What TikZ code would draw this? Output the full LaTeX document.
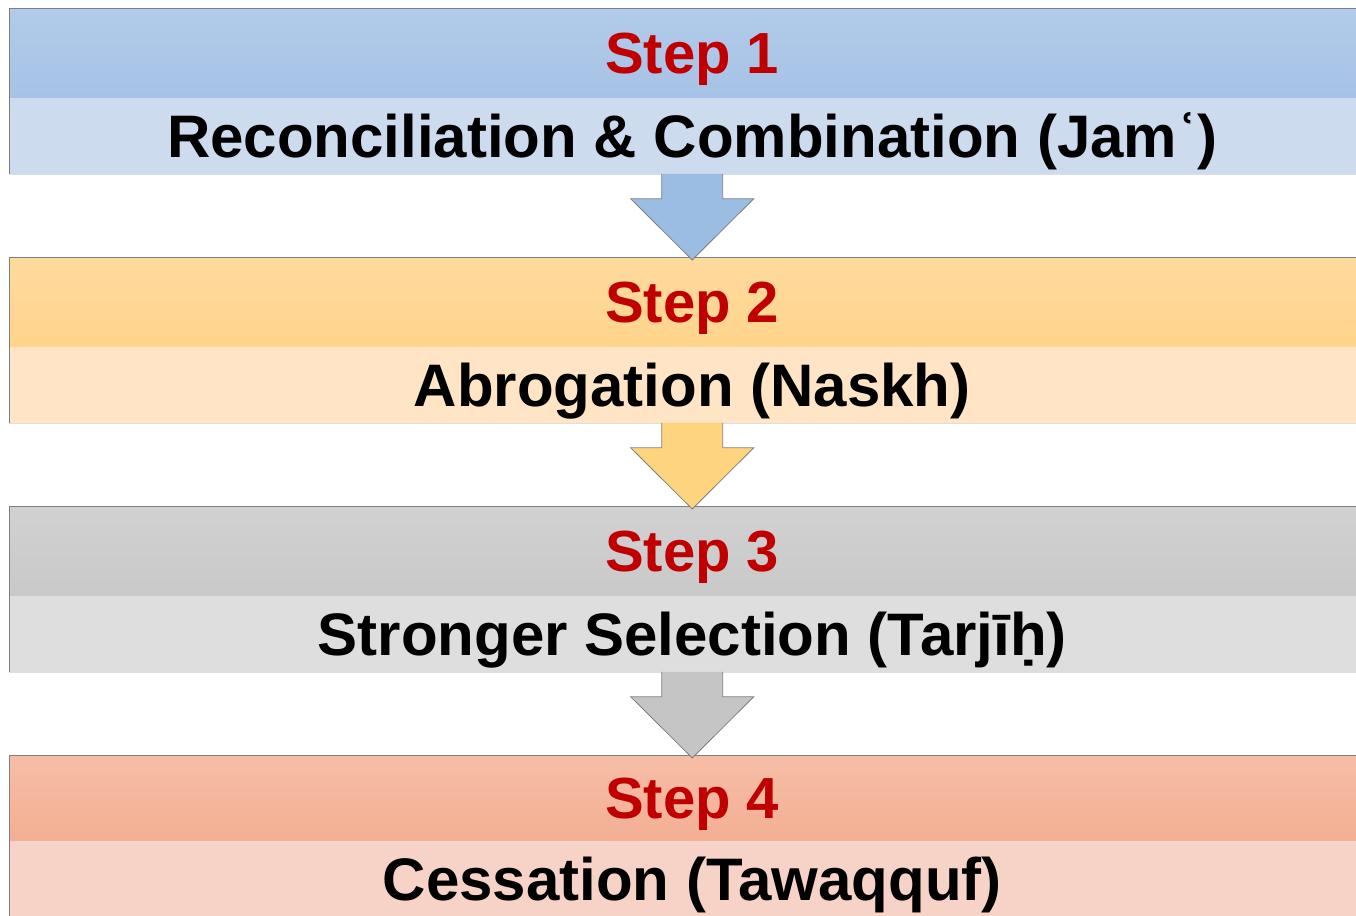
\documentclass[tikz,border=0pt]{standalone}
\usepackage{fontspec}
\setmainfont{Liberation Sans}
\usetikzlibrary{calc}

\definecolor{stepred}{HTML}{C00000}
\definecolor{framegray}{HTML}{7F7F7F}
\definecolor{blueTop}{HTML}{B1CBE9}
\definecolor{blueBot}{HTML}{A6C2E6}
\definecolor{blueBody}{HTML}{CCDBEE}
\definecolor{blueArrow}{HTML}{9BBDE4}
\definecolor{orangeTop}{HTML}{FFDA9E}
\definecolor{orangeBot}{HTML}{FFD48C}
\definecolor{orangeBody}{HTML}{FFE5C6}
\definecolor{orangeArrow}{HTML}{FFD47E}
\definecolor{grayTop}{HTML}{D1D1D1}
\definecolor{grayBot}{HTML}{C9C9C9}
\definecolor{grayBody}{HTML}{DEDEDE}
\definecolor{grayArrow}{HTML}{C5C5C5}
\definecolor{salmonTop}{HTML}{F6BDA6}
\definecolor{salmonBot}{HTML}{F3AF94}
\definecolor{salmonBody}{HTML}{F6D3C6}

\begin{document}
\begin{tikzpicture}[x=1pt, y=1pt]

    \useasboundingbox (0,0) rectangle (1356,915);

    % Estilos
    \tikzset{
        stephead/.style={anchor=north west, minimum width=1366pt, minimum height=88pt,
            inner sep=0pt, text height=41.5pt, text depth=0pt,
            font=\fontsize{58}{60}\selectfont\bfseries, text=stepred},
        stepbody/.style={anchor=north west, minimum width=1366pt, minimum height=76pt,
            inner sep=0pt, text height=43pt, text depth=0pt,
            font=\fontsize{60}{62}\selectfont\bfseries, text=black},
        frame/.style={draw=framegray, line width=1pt},
        flow/.style={draw=framegray, line width=0.8pt, line join=miter}
    }

    % --------------------
    % Step 1
    % --------------------
    \node[stephead, top color=blueTop, bottom color=blueBot] (head1) at (9,906) {Step 1};
    \node[stepbody, fill=blueBody] (body1) at (head1.south west) {Reconciliation \& Combination (Jamʿ)};
    \draw[gray!25] (body1.south west) -- (body1.south east);
    \draw[frame] (body1.south west) -- (head1.north west) -- (head1.north east);

    % --------------------
    % Step 2
    % --------------------
    \node[stephead, top color=orangeTop, bottom color=orangeBot] (head2) at (9,657) {Step 2};
    \node[stepbody, fill=orangeBody] (body2) at (head2.south west) {Abrogation (Naskh)};
    \draw[gray!25] (body2.south west) -- (body2.south east);
    \draw[frame] (body2.south west) -- (head2.north west) -- (head2.north east);

    % --------------------
    % Step 3
    % --------------------
    \node[stephead, top color=grayTop, bottom color=grayBot] (head3) at (9,408) {Step 3};
    \node[stepbody, fill=grayBody] (body3) at (head3.south west) {Stronger Selection (Tarjīḥ)};
    \draw[gray!25] (body3.south west) -- (body3.south east);
    \draw[frame] (body3.south west) -- (head3.north west) -- (head3.north east);

    % --------------------
    % Step 4
    % --------------------
    \node[stephead, minimum height=84pt, top color=salmonTop, bottom color=salmonBot] (head4) at (9,159) {Step 4};
    \node[stepbody, fill=salmonBody] (body4) at (head4.south west) {Cessation (Tawaqquf)};
    \draw[frame] (body4.south west) -- (head4.north west) -- (head4.north east);

    % --------------------
    % Setas
    % --------------------
    \draw[flow, fill=blueArrow]
    ($(body1.south)+(-30.5,0)$) --
    ($(body1.south)+(-30.5,-25)$) --
    ($(body1.south)+(-61.5,-25)$) --
    ($(head2.north)+(0,-2)$) --
    ($(body1.south)+(61.5,-25)$) --
    ($(body1.south)+(30.5,-25)$) --
    ($(body1.south)+(30.5,0)$);

    \draw[flow, fill=orangeArrow]
    ($(body2.south)+(-30.5,0)$) --
    ($(body2.south)+(-30.5,-25)$) --
    ($(body2.south)+(-61.5,-25)$) --
    ($(head3.north)+(0,-2)$) --
    ($(body2.south)+(61.5,-25)$) --
    ($(body2.south)+(30.5,-25)$) --
    ($(body2.south)+(30.5,0)$);

    \draw[flow, fill=grayArrow]
    ($(body3.south)+(-30.5,0)$) --
    ($(body3.south)+(-30.5,-25)$) --
    ($(body3.south)+(-61.5,-25)$) --
    ($(head4.north)+(0,-2)$) --
    ($(body3.south)+(61.5,-25)$) --
    ($(body3.south)+(30.5,-25)$) --
    ($(body3.south)+(30.5,0)$);

\end{tikzpicture}
\end{document}
